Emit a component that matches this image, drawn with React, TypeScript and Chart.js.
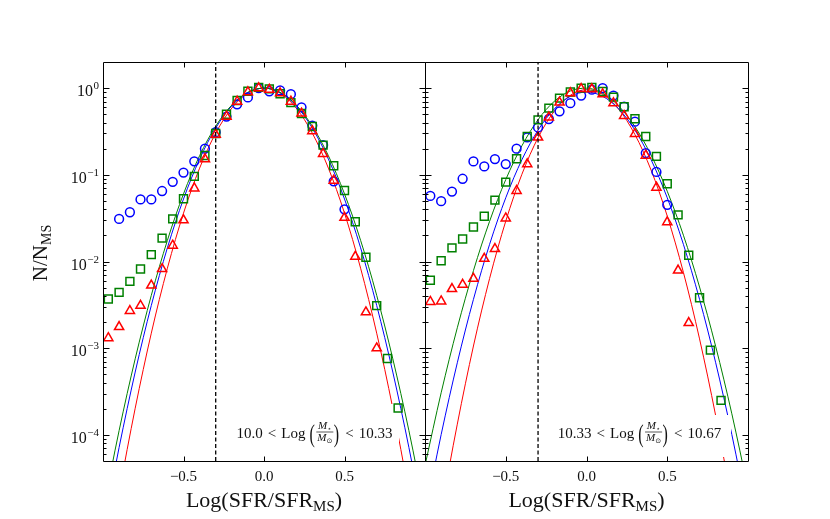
import React, { useEffect, useRef } from "react";
import { Chart, registerables } from "chart.js";

Chart.register(...registerables);

const FONT = '"Liberation Serif", "DejaVu Serif", "Times New Roman", serif';

// ---------- data ----------
const binCenters = [
  -0.967, -0.9, -0.833, -0.767, -0.7, -0.633, -0.567, -0.5, -0.433, -0.367,
  -0.3, -0.233, -0.167, -0.1, -0.033, 0.033, 0.1, 0.167, 0.233, 0.3,
  0.367, 0.433, 0.5, 0.567, 0.633, 0.7, 0.767, 0.833,
];

// Panel 1: 10.0 < log M < 10.33
const leftBlue = [
  null, 0.031, 0.037, 0.052, 0.052, 0.065, 0.083, 0.106, 0.143, 0.2,
  0.31, 0.47, 0.65, 0.78, 1.0, 0.92, 0.94, 0.85, 0.6, 0.37,
  0.22, 0.084, 0.04, null, null, null, null, null,
];
const leftGreen = [
  0.0037, 0.0044, 0.0059, 0.0082, 0.012, 0.0186, 0.031, 0.053, 0.096, 0.167,
  0.3, 0.5, 0.72, 0.92, 1.02, 0.98, 0.86, 0.68, 0.51, 0.36,
  0.22, 0.127, 0.066, 0.0288, 0.0112, 0.0031, 0.00076, 0.000204,
];
const leftRed = [
  0.00131, 0.00176, 0.0027, 0.0031, 0.0053, 0.0082, 0.0153, 0.03, 0.07, 0.152,
  0.29, 0.47, 0.7, 0.9, 1.0, 0.96, 0.875, 0.7, 0.51, 0.32,
  0.175, 0.086, 0.032, 0.0114, 0.0026, 0.001, null, null,
];

// Panel 2: 10.33 < log M < 10.67
const rightBlue = [
  0.057, 0.0497, 0.064, 0.09, 0.1425, 0.125, 0.152, 0.133, 0.2, 0.27,
  0.352, 0.44, 0.54, 0.67, 0.82, 0.96, 1.0, 0.82, 0.61, 0.41,
  0.178, 0.108, 0.045, null, null, null, null, null,
];
const rightGreen = [
  0.00608, 0.0102, 0.01435, 0.0182, 0.025, 0.0332, 0.051, 0.0823, 0.153, 0.277,
  0.43, 0.588, 0.767, 0.9, 1.0, 1.02, 0.915, 0.787, 0.61, 0.443,
  0.277, 0.163, 0.0788, 0.0345, 0.0118, 0.00381, 0.00095, 0.00025,
];
const rightRed = [
  0.00343, 0.00348, 0.00483, 0.00542, 0.00635, 0.0108, 0.014, 0.0315, 0.0654, 0.133,
  0.27, 0.459, 0.684, 0.875, 0.98, 0.973, 0.853, 0.671, 0.48, 0.297,
  0.167, 0.0714, 0.0285, 0.0079, 0.00196, null, null, null,
];

// fitted curves, read at these x positions
const fitX = [
  -1.0, -0.9, -0.8, -0.7, -0.6, -0.5, -0.4, -0.3, -0.2, -0.1, 0.0,
  0.1, 0.2, 0.3, 0.4, 0.5, 0.6, 0.7, 0.8, 0.9, 1.0,
];
const leftGreenFit = [
  1.32e-5, 1.12e-4, 7.55e-4, 0.00407, 0.01754, 0.0603, 0.166, 0.364, 0.638, 0.894, 1.0,
  0.894, 0.638, 0.364, 0.166, 0.0603, 0.01754, 0.00407, 7.55e-4, 1.12e-4, 1.32e-5,
];
const leftBlueFit = [
  7.64e-6, 7.16e-5, 5.31e-4, 0.00311, 0.01439, 0.0526, 0.1518, 0.346, 0.624, 0.889, 1.0,
  0.889, 0.624, 0.346, 0.1518, 0.0526, 0.01439, 0.00311, 5.31e-4, 7.16e-5, 7.64e-6,
];
const leftRedFit = [
  1.7e-6, 2.12e-5, 2.03e-4, 0.00149, 0.00837, 0.0361, 0.1193, 0.3025, 0.588, 0.876, 1.0,
  0.876, 0.588, 0.3025, 0.1193, 0.0361, 0.00837, 0.00149, 2.03e-4, 2.12e-5, 1.7e-6,
];
const rightGreenFit = [
  4.43e-5, 3.06e-4, 1.72e-3, 7.85e-3, 0.0291, 0.088, 0.216, 0.432, 0.702, 0.928, 0.998,
  0.872, 0.62, 0.359, 0.1688, 0.0646, 0.0201, 0.00508, 0.001047, 1.75e-4, 2.38e-5,
];
const rightBlueFit = [
  1.19e-5, 1.007e-4, 6.79e-4, 0.00366, 0.01578, 0.0543, 0.1492, 0.3275, 0.574, 0.804, 0.9,
  0.804, 0.574, 0.3275, 0.1492, 0.0543, 0.01578, 0.00366, 6.79e-4, 1.007e-4, 1.19e-5,
];
const rightRedFit = [
  9.3e-7, 1.28e-5, 1.33e-4, 1.06e-3, 6.37e-3, 0.0292, 0.1014, 0.268, 0.54, 0.825, 0.96,
  0.848, 0.57, 0.291, 0.1132, 0.0334, 0.0075, 0.00128, 1.66e-4, 1.64e-5, 1.23e-6,
];

const cutValue = -0.3;
const xTickValues = [-0.5, 0, 0.5];
const xTickLabels = ["\u22120.5", "0.0", "0.5"];
const yTickValues = [1, 0.1, 0.01, 0.001, 0.0001];
const yTickExponents = ["0", "\u22121", "\u22122", "\u22123", "\u22124"];
const massLow = ["10.0", "10.33"];
const massHigh = ["10.33", "10.67"];

const X_MIN = -1;
const X_MAX = 1;
const Y_MIN = 5e-5;
const Y_MAX = 2;

const BLUE = "#0000ff";
const GREEN = "#008000";
const RED = "#ff0000";

// minor log ticks
const yMinorValues: number[] = [];
for (let e = -5; e <= 0; e++) {
  for (let k = 2; k <= 9; k++) {
    const v = k * Math.pow(10, e);
    if (v > Y_MIN * 1.0001 && v < Y_MAX * 0.9999) yMinorValues.push(v);
  }
}

function toPoints(xs: number[], ys: (number | null)[]) {
  const out: { x: number; y: number }[] = [];
  xs.forEach((x, i) => {
    const y = ys[i];
    if (y !== null && y !== undefined) out.push({ x, y });
  });
  return out;
}

type Panel = {
  id: string;
  padding: { left: number; right: number; top: number; bottom: number };
  blue: (number | null)[];
  green: (number | null)[];
  red: (number | null)[];
  blueFit: number[];
  greenFit: number[];
  redFit: number[];
  low: string;
  high: string;
  labelCenter: number;
  box: [number, number, number, number];
  showY: boolean;
};

const panels: Panel[] = [
  {
    id: "p1",
    padding: { left: 103, right: 405, top: 62, bottom: 58 },
    blue: leftBlue,
    green: leftGreen,
    red: leftRed,
    blueFit: leftBlueFit,
    greenFit: leftGreenFit,
    redFit: leftRedFit,
    low: massLow[0],
    high: massHigh[0],
    labelCenter: 314.5,
    box: [228, 404, 399, 457],
    showY: true,
  },
  {
    id: "p2",
    padding: { left: 425, right: 82, top: 62, bottom: 58 },
    blue: rightBlue,
    green: rightGreen,
    red: rightRed,
    blueFit: rightBlueFit,
    greenFit: rightGreenFit,
    redFit: rightRedFit,
    low: massLow[1],
    high: massHigh[1],
    labelCenter: 639.5,
    box: [550, 415, 731, 457],
    showY: false,
  },
];

function drawTallParen(ctx: CanvasRenderingContext2D, ch: string, x: number, cy: number) {
  ctx.save();
  ctx.translate(x, cy);
  ctx.scale(1, 1.55);
  ctx.font = `16px ${FONT}`;
  ctx.fillText(ch, 0, 4.2);
  ctx.restore();
}

function drawMassLabel(ctx: CanvasRenderingContext2D, p: Panel) {
  const base = 438;
  const fMain = `15px ${FONT}`;
  const fItal = `italic 11px ${FONT}`;
  const fSub = `7px "DejaVu Sans", ${FONT}`;
  const gapOp = 5;

  ctx.font = fMain;
  const wLow = ctx.measureText(p.low).width;
  const wHigh = ctx.measureText(p.high).width;
  const wLt = ctx.measureText("<").width;
  const wLog = ctx.measureText("Log").width;
  ctx.font = `16px ${FONT}`;
  const wL = ctx.measureText("(").width + 1;
  const wR = ctx.measureText(")").width + 1;
  ctx.font = fItal;
  const wM = ctx.measureText("M").width;
  ctx.font = fSub;
  const wStar = ctx.measureText("\u22c6").width;
  const wSun = ctx.measureText("\u2299").width;
  const wNum = wM + wStar;
  const wDen = wM + wSun;
  const wFrac = Math.max(wNum, wDen) + 3;

  const total =
    wLow + gapOp + wLt + gapOp + wLog + 4 + wL + wFrac + wR + gapOp + wLt + gapOp + wHigh;
  let x = p.labelCenter - total / 2;

  ctx.fillStyle = "#111";
  ctx.textAlign = "left";
  ctx.textBaseline = "alphabetic";
  ctx.font = fMain;
  ctx.fillText(p.low, x, base);
  x += wLow + gapOp;
  ctx.fillText("<", x, base);
  x += wLt + gapOp;
  ctx.fillText("Log", x, base);
  x += wLog + 4;
  drawTallParen(ctx, "(", x, 435);
  x += wL;
  // fraction
  const nx = x + (wFrac - wNum) / 2;
  const dx = x + (wFrac - wDen) / 2;
  ctx.font = fItal;
  ctx.fillText("M", nx, 429);
  ctx.fillText("M", dx, 441);
  ctx.font = fSub;
  ctx.fillText("\u22c6", nx + wM, 431);
  ctx.fillText("\u2299", dx + wM, 443);
  ctx.strokeStyle = "#111";
  ctx.lineWidth = 0.7;
  ctx.beginPath();
  ctx.moveTo(x + 0.5, 432);
  ctx.lineTo(x + wFrac - 0.5, 432);
  ctx.stroke();
  x += wFrac;
  drawTallParen(ctx, ")", x, 435);
  x += wR + gapOp;
  ctx.font = fMain;
  ctx.fillText("<", x, base);
  x += wLt + gapOp;
  ctx.fillText(p.high, x, base);
}

function drawAxes(chart: any, p: Panel) {
  const ctx: CanvasRenderingContext2D = chart.ctx;
  const a = chart.chartArea;
  const xs = chart.scales.x;
  const ys = chart.scales.y;
  ctx.save();
  ctx.strokeStyle = "#000";
  ctx.lineWidth = 1;
  const L = a.left + 0.5;
  const R = a.right + 0.5;
  const T = a.top + 0.5;
  const B = a.bottom + 0.5;
  ctx.beginPath();
  ctx.rect(L, T, R - L, B - T);
  for (const v of xTickValues) {
    const px = Math.round(xs.getPixelForValue(v)) + 0.5;
    ctx.moveTo(px, B);
    ctx.lineTo(px, B - 5);
    ctx.moveTo(px, T);
    ctx.lineTo(px, T + 5);
  }
  for (const v of yTickValues) {
    const py = Math.round(ys.getPixelForValue(v)) + 0.5;
    ctx.moveTo(L, py);
    ctx.lineTo(L + 6, py);
    ctx.moveTo(R, py);
    ctx.lineTo(R - 6, py);
  }
  for (const v of yMinorValues) {
    const py = Math.round(ys.getPixelForValue(v)) + 0.5;
    ctx.moveTo(L, py);
    ctx.lineTo(L + 3, py);
    ctx.moveTo(R, py);
    ctx.lineTo(R - 3, py);
  }
  ctx.stroke();

  ctx.fillStyle = "#111";
  ctx.textBaseline = "alphabetic";
  ctx.textAlign = "center";
  ctx.font = `15px ${FONT}`;
  xTickValues.forEach((v, i) => {
    ctx.fillText(xTickLabels[i], xs.getPixelForValue(v), 481);
  });

  // x title
  const cx = (a.left + a.right) / 2;
  const fT = `22px ${FONT}`;
  const fS = `15px ${FONT}`;
  ctx.font = fT;
  const w1 = ctx.measureText("Log(SFR/SFR").width;
  const w3 = ctx.measureText(")").width;
  ctx.font = fS;
  const w2 = ctx.measureText("MS").width;
  let x = cx - (w1 + w2 + w3) / 2;
  ctx.textAlign = "left";
  ctx.font = fT;
  ctx.fillText("Log(SFR/SFR", x, 507);
  x += w1;
  ctx.font = fS;
  ctx.fillText("MS", x, 511);
  x += w2;
  ctx.font = fT;
  ctx.fillText(")", x, 507);

  if (p.showY) {
    ctx.textAlign = "right";
    yTickValues.forEach((v, i) => {
      const py = ys.getPixelForValue(v);
      const xr = a.left - 4;
      ctx.font = `11px ${FONT}`;
      const ew = ctx.measureText(yTickExponents[i]).width;
      ctx.fillText(yTickExponents[i], xr, py + 1);
      ctx.font = `16px ${FONT}`;
      ctx.fillText("10", xr - ew - 0.5, py + 8);
    });
    // y title
    ctx.save();
    ctx.translate(47, 253);
    ctx.rotate(-Math.PI / 2);
    ctx.textAlign = "left";
    const fY = `21px ${FONT}`;
    const fYs = `14px ${FONT}`;
    ctx.font = fY;
    const a1 = ctx.measureText("N/N").width;
    ctx.font = fYs;
    const a2 = ctx.measureText("MS").width;
    const sx = -(a1 + a2) / 2;
    ctx.font = fY;
    ctx.fillText("N/N", sx, 0);
    ctx.font = fYs;
    ctx.fillText("MS", sx + a1, 4);
    ctx.restore();
  }
  ctx.restore();
}

function makePlugin(p: Panel) {
  let boxDone = false;
  return {
    id: "panelDeco_" + p.id,
    beforeDatasetsDraw() {
      boxDone = false;
    },
    beforeDatasetDraw(chart: any, args: any) {
      const ds = chart.data.datasets[args.index];
      if (!boxDone && ds && ds.isMarker) {
        boxDone = true;
        const ctx: CanvasRenderingContext2D = chart.ctx;
        ctx.save();
        ctx.fillStyle = "#ffffff";
        const [x0, y0, x1, y1] = p.box;
        ctx.fillRect(x0, y0, x1 - x0, y1 - y0);
        drawMassLabel(ctx, p);
        ctx.restore();
      }
    },
    afterDraw(chart: any) {
      drawAxes(chart, p);
    },
  };
}

function makeConfig(p: Panel): any {
  const curve = (data: number[], color: string) => ({
    data: toPoints(fitX, data),
    showLine: true,
    borderColor: color,
    borderWidth: 1,
    pointRadius: 0,
    pointHoverRadius: 0,
    fill: false,
    cubicInterpolationMode: "monotone",
    order: 5,
  });
  const markers = (data: (number | null)[], color: string, style: string, radius: number, order: number) => ({
    data: toPoints(binCenters, data),
    isMarker: true,
    showLine: false,
    pointStyle: style,
    pointRadius: radius,
    pointHoverRadius: radius,
    pointBorderWidth: 1.5,
    pointBorderColor: color,
    pointBackgroundColor: "rgba(0,0,0,0)",
    borderColor: color,
    backgroundColor: "rgba(0,0,0,0)",
    order,
  });
  return {
    type: "scatter",
    data: {
      datasets: [
        curve(p.greenFit, GREEN),
        curve(p.blueFit, BLUE),
        curve(p.redFit, RED),
        markers(p.blue, BLUE, "circle", 4.4, 3),
        markers(p.green, GREEN, "rect", 5.6, 2),
        markers(p.red, RED, "triangle", 5.3, 1),
        {
          data: [
            { x: cutValue, y: Y_MIN },
            { x: cutValue, y: Y_MAX },
          ],
          showLine: true,
          borderColor: "#000",
          borderWidth: 1.3,
          borderDash: [4, 2.5],
          pointRadius: 0,
          pointHoverRadius: 0,
          fill: false,
          order: -1,
        },
      ],
    },
    options: {
      responsive: false,
      animation: false,
      events: [],
      layout: { padding: p.padding },
      elements: { line: { capBezierPoints: false } },
      scales: {
        x: { type: "linear", min: X_MIN, max: X_MAX, display: false },
        y: { type: "logarithmic", min: Y_MIN, max: Y_MAX, display: false },
      },
      plugins: {
        legend: { display: false },
        tooltip: { enabled: false },
        title: { display: false },
      },
    },
    plugins: [makePlugin(p)],
  };
}

export default function App() {
  const ref1 = useRef<HTMLCanvasElement | null>(null);
  const ref2 = useRef<HTMLCanvasElement | null>(null);

  useEffect(() => {
    const charts: Chart[] = [];
    if (ref1.current) charts.push(new Chart(ref1.current, makeConfig(panels[0])));
    if (ref2.current) charts.push(new Chart(ref2.current, makeConfig(panels[1])));
    return () => {
      charts.forEach((c) => c.destroy());
    };
  }, []);

  const canvasStyle: React.CSSProperties = {
    position: "absolute",
    left: 0,
    top: 0,
    width: 830,
    height: 519,
  };

  return (
    <div
      style={{
        position: "fixed",
        left: 0,
        top: 0,
        width: 830,
        height: 519,
        background: "#ffffff",
        overflow: "hidden",
      }}
    >
      <canvas ref={ref1} width={830} height={519} style={canvasStyle} />
      <canvas ref={ref2} width={830} height={519} style={canvasStyle} />
    </div>
  );
}
